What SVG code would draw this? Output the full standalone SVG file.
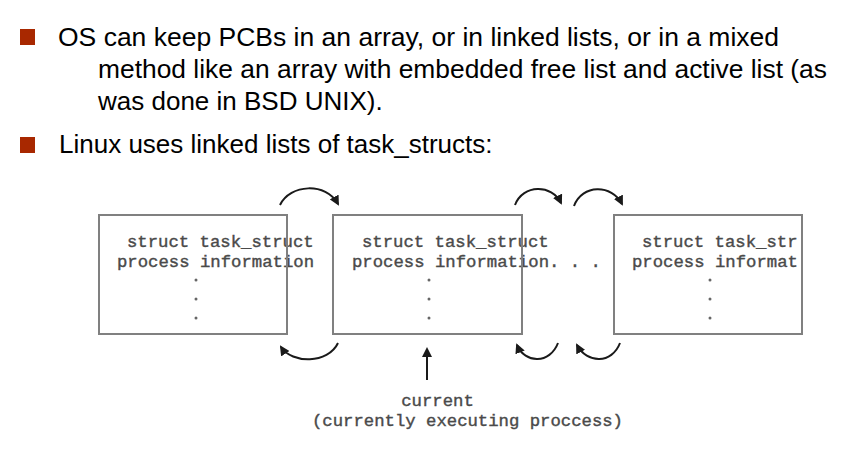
<svg xmlns="http://www.w3.org/2000/svg" width="853" height="454" viewBox="0 0 853 454">
<style>
.hd{font-family:"Liberation Sans",Arial,sans-serif;font-size:26px;fill:#000}
.mono{font-family:"Liberation Mono","Courier New",monospace;font-size:17.3px;fill:#4a4a4a;stroke:#4a4a4a;stroke-width:0.4}
.box{fill:none;stroke:#808080;stroke-width:2}
.dot{fill:#666}
.arc{fill:none;stroke:#1a1a1a;stroke-width:2}
.bullet{fill:#A82800}
</style>
<defs>
<marker id="ah" viewBox="0 0 10 10" refX="8" refY="5" markerWidth="10" markerHeight="10" markerUnits="userSpaceOnUse" orient="auto">
<path d="M0,0 L10,5 L0,10 z" fill="#1a1a1a"/>
</marker>
<clipPath id="clip3"><rect x="600" y="200" width="198" height="140"/></clipPath>
</defs>
<rect width="853" height="454" fill="#fff"/>
<g id="header">
<rect class="bullet" x="20" y="29" width="15" height="16"/>
<text class="hd" x="58" y="46" textLength="721" lengthAdjust="spacingAndGlyphs">OS can keep PCBs in an array, or in linked lists, or in a mixed</text>
<text class="hd" x="98" y="78" textLength="729" lengthAdjust="spacingAndGlyphs">method like an array with embedded free list and active list (as</text>
<text class="hd" x="98" y="110">was done in BSD UNIX).</text>
<rect class="bullet" x="20" y="137" width="15" height="16"/>
<text class="hd" x="59" y="153">Linux uses linked lists of task_structs:</text>
</g>
<g id="node1">
<text class="mono" x="127" y="247">struct task_struct</text>
<text class="mono" x="117" y="267">process information</text>
<circle class="dot" cx="196" cy="280" r="1.5"/>
<circle class="dot" cx="196" cy="299" r="1.5"/>
<circle class="dot" cx="196" cy="318" r="1.5"/>
<rect class="box" x="99" y="215" width="188" height="119"/>
</g>
<g id="node2">
<text class="mono" x="362" y="247">struct task_struct</text>
<text class="mono" x="352" y="267">process information. . .</text>
<circle class="dot" cx="429" cy="280" r="1.5"/>
<circle class="dot" cx="429" cy="299" r="1.5"/>
<circle class="dot" cx="429" cy="318" r="1.5"/>
<rect class="box" x="333" y="215" width="189" height="119"/>
</g>
<g id="node3">
<g clip-path="url(#clip3)">
<text class="mono" x="642" y="247">struct task_struct</text>
<text class="mono" x="632" y="267">process information</text>
</g>
<circle class="dot" cx="710" cy="280" r="1.5"/>
<circle class="dot" cx="710" cy="299" r="1.5"/>
<circle class="dot" cx="710" cy="318" r="1.5"/>
<rect class="box" x="614" y="215" width="188" height="119"/>
</g>
<g id="current-label">
<text class="mono" x="437.5" y="406" text-anchor="middle">current</text>
<text class="mono" x="312" y="426" textLength="311" lengthAdjust="spacingAndGlyphs">(currently executing proccess)</text>
</g>
<g id="connectors">
<path class="arc" d="M280,205 C290,184 326,182 338,204" marker-end="url(#ah)"/>
<path class="arc" d="M515,205 C523,184 552,184 561,203" marker-end="url(#ah)"/>
<path class="arc" d="M574,206 C582,184 612,184 622,204" marker-end="url(#ah)"/>
<path class="arc" d="M338,343 C328,364 292,364 281,347" marker-end="url(#ah)"/>
<path class="arc" d="M558,343 C550,364 525,364 517,345" marker-end="url(#ah)"/>
<path class="arc" d="M620,343 C612,364 587,364 577,345" marker-end="url(#ah)"/>
<path class="arc" d="M427,380 L427,349" marker-end="url(#ah)"/>
</g>
</svg>
